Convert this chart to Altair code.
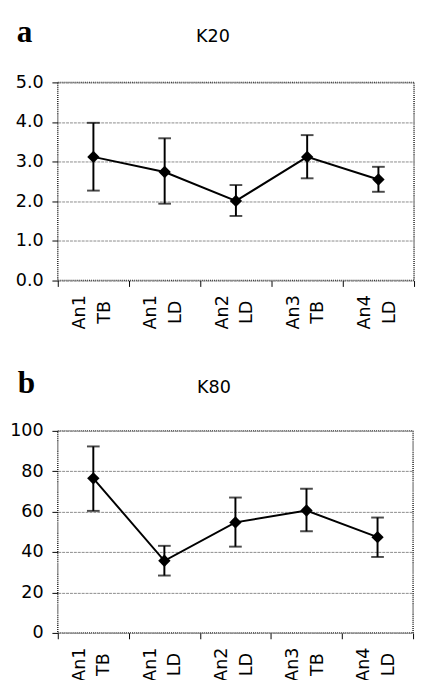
import altair as alt
import pandas as pd

categories = ["An1 TB", "An1 LD", "An2 LD", "An3 TB", "An4 LD"]

k20_mean = [3.12, 2.74, 2.01, 3.12, 2.55]
k20_low = [2.27, 1.94, 1.63, 2.58, 2.24]
k20_high = [3.98, 3.59, 2.41, 3.67, 2.87]

k80_mean = [76.5, 35.7, 54.7, 60.6, 47.4]
k80_low = [60.4, 28.4, 42.7, 50.3, 37.6]
k80_high = [92.3, 43.1, 67.0, 71.4, 57.1]

panel_letters = ["a", "b"]
panel_titles = ["K20", "K80"]

k20_ticks = [0, 1, 2, 3, 4, 5]
k80_ticks = [0, 20, 40, 60, 80, 100]

FONT = "DejaVu Sans"


def panel(letter, title, mean, low, high, ticks, fmt, width, height, lx, tx, ty):
    df = pd.DataFrame({"cat": categories, "mean": mean, "low": low, "high": high})
    x = alt.X(
        "cat:N",
        sort=categories,
        scale=alt.Scale(type="band", paddingInner=0, paddingOuter=0),
        axis=alt.Axis(
            title=None,
            labelAngle=270,
            labelAlign="center",
            labelBaseline="middle",
            labelExpr="split(datum.label, ' ')",
            tickBand="extent",
            tickSize=6,
            labelPadding=26,
            labelOffset=-14,
            domain=False,
            grid=False,
            labelFontSize=18,
            labelLineHeight=25,
            labelFont=FONT,
            labelColor="black",
            tickColor="black",
        ),
    )
    yscale = alt.Scale(domain=[ticks[0], ticks[-1]], nice=False)
    y = alt.Y(
        "mean:Q",
        scale=yscale,
        axis=alt.Axis(
            title=None,
            values=ticks,
            format=fmt,
            tickSize=6,
            labelPadding=9,
            domain=False,
            grid=True,
            gridColor="#8a8a8a",
            gridDash=[3, 1],
            gridWidth=1,
            labelFontSize=18,
            labelFont=FONT,
            labelColor="black",
            tickColor="black",
        ),
    )
    base = alt.Chart(df)
    rules = base.mark_rule(color="black", strokeWidth=2).encode(
        x=x, y=alt.Y("low:Q", scale=yscale), y2="high:Q"
    )
    cap_lo = base.mark_tick(color="black", thickness=2, size=13, orient="horizontal").encode(
        x=x, y=alt.Y("low:Q", scale=yscale)
    )
    cap_hi = base.mark_tick(color="black", thickness=2, size=13, orient="horizontal").encode(
        x=x, y=alt.Y("high:Q", scale=yscale)
    )
    line = base.mark_line(color="black", strokeWidth=2).encode(x=x, y=y)
    pts = base.mark_point(shape="diamond", filled=True, color="black", size=160, opacity=1).encode(x=x, y=y)

    tdf = pd.DataFrame({"letter": [letter], "title": [title]})
    tbase = alt.Chart(tdf)
    let = tbase.mark_text(
        font="Liberation Serif", fontWeight="bold", fontSize=32, align="left", baseline="alphabetic", color="black"
    ).encode(text="letter:N", x=alt.value(lx), y=alt.value(ty))
    ttl = tbase.mark_text(
        font=FONT, fontSize=18, align="center", baseline="alphabetic", color="black"
    ).encode(text="title:N", x=alt.value(tx), y=alt.value(ty))

    return alt.layer(rules, cap_lo, cap_hi, line, pts, let, ttl).properties(width=width, height=height)


a = panel(panel_letters[0], panel_titles[0], k20_mean, k20_low, k20_high, k20_ticks, ".1f", 365, 203, -42, 159, -41)
b = panel(panel_letters[1], panel_titles[1], k80_mean, k80_low, k80_high, k80_ticks, "d", 364, 207, -41, 160, -39)

chart = (
    alt.vconcat(a, b, spacing=37)
    .properties(padding={"left": 0, "top": 0, "right": 0, "bottom": -11})
    .configure_view(stroke="#222", strokeWidth=1.5, strokeDash=[1, 1])
)

chart.save("out.html", embed_options={"renderer": "svg", "actions": False})
